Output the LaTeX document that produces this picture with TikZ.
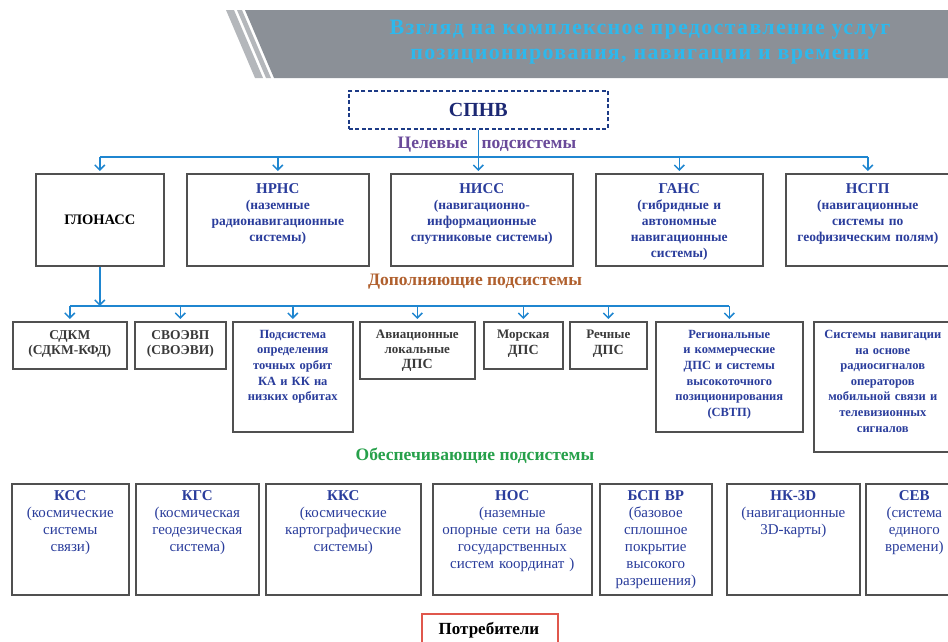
\documentclass[tikz,border=0pt]{standalone}
\usepackage{fontspec}
\setmainfont{Liberation Serif}
\newfontfamily\titlefont[LetterSpace=6]{Liberation Serif}
\usetikzlibrary{arrows.meta}
\definecolor{tblue}{HTML}{2A3D9C}
\definecolor{navy}{HTML}{1C2873}
\definecolor{boxgray}{HTML}{505050}
\definecolor{connblue}{HTML}{1F86D0}
\definecolor{lpurple}{HTML}{6A4A9A}
\definecolor{lbrown}{HTML}{B0602E}
\definecolor{lgreen}{HTML}{26A04A}
\definecolor{lred}{HTML}{E0574C}
\definecolor{tcyan}{HTML}{2EB8EC}
\definecolor{bannergray}{HTML}{8B9097}
\definecolor{stripegray}{HTML}{B4B7BB}
\definecolor{gtext}{HTML}{3A3A3A}
\newcommand\fsz[2]{\fontsize{#1}{#2}\selectfont}
\newcommand\ttlA[1]{{\fsz{15}{18}\bfseries #1\par}}
\newcommand\ttlB[1]{{\fsz{15}{17}\bfseries #1\par}}
\tikzset{
  box/.style={draw=boxgray, line width=1.6pt, fill=white, inner sep=0pt, anchor=north west},
  txt/.style={anchor=north, align=center, inner sep=0pt},
  rowA/.style={txt, text=tblue, font=\fsz{13.5}{16}\bfseries},
  rowB/.style={txt, text=tblue, font=\fsz{12.5}{15.6}\bfseries},
  rowG/.style={txt, text=gtext, font=\fsz{13.5}{15.5}\bfseries},
  rowD/.style={txt, text=tblue, font=\fsz{15}{17}},
  bus/.style={draw=connblue, line width=1.5pt},
  conn/.style={draw=connblue, line width=1.5pt, -{Straight Barb[length=5pt,width=10pt]}, shorten >=2pt},
  lbl/.style={inner sep=0pt, font=\fsz{17.5}{19}\bfseries}
}
\begin{document}
\begin{tikzpicture}[x=1pt,y=-1pt]
\useasboundingbox (0,0) rectangle (948,641);
\clip (0,0) rectangle (948,641);
% banner
\fill[stripegray] (226,10) -- (234,10) -- (263,78) -- (255,78) -- cycle;
\fill[stripegray] (237,10) -- (242,10) -- (271,78) -- (266,78) -- cycle;
\fill[bannergray] (245,10) -- (960,10) -- (960,78) -- (274,78) -- cycle;
\node[txt, anchor=center, text=tcyan, font=\titlefont\fsz{22}{25}\bfseries] (title) at (640,42)
  {Взгляд на комплексное предоставление услуг\\позиционирования, навигации и времени};
% top
\node[box, draw=navy!80!connblue, dashed, dash pattern=on 4pt off 2.5pt, minimum width=259, minimum height=38] (spnv) at (348,90) {};
\node[inner sep=0pt, text=navy, font=\fsz{20}{22}\bfseries] (spnvT) at (spnv.center) {СПНВ};
\node[lbl, text=lpurple] (lblA) at (487,145) {Целевые\hspace{14pt}подсистемы};
% row 1
\node[box, minimum width=128, minimum height=92] (glonass) at (35,173) {};
\node[inner sep=0pt, font=\fsz{14.5}{16}\bfseries] (glonassT) at (glonass.center) {ГЛОНАСС};
\node[box, minimum width=182, minimum height=92] (nrns) at (186,173) {};
\node[rowA, text width=178] (nrnsT) at ([yshift=-10pt]nrns.north) {\ttlA{НРНС}(наземные\\радионавигационные\\системы)};
\node[box, minimum width=182, minimum height=92] (niss) at (390,173) {};
\node[rowA, text width=178] (nissT) at ([yshift=-10pt]niss.north) {\ttlA{НИСС}(навигационно-\\информационные\\спутниковые системы)};
\node[box, minimum width=167, minimum height=92] (gans) at (595,173) {};
\node[rowA, text width=163] (gansT) at ([yshift=-10pt]gans.north) {\ttlA{ГАНС}(гибридные и\\автономные\\навигационные\\системы)};
\node[box, minimum width=164, minimum height=92] (nsgp) at (785,173) {};
\node[rowA, text width=160] (nsgpT) at ([yshift=-10pt]nsgp.north) {\ttlA{НСГП}(навигационные\\системы по\\геофизическим полям)};
% connectors top
\coordinate (busA) at (0,157);
\draw[bus] (glonass.north |- busA) -- (nsgp.north |- busA);
\draw[conn] (spnv.south) -- (spnv.south |- niss.north);
\draw[conn] (glonass.north |- busA) -- (glonass.north);
\draw[conn] (nrns.north |- busA) -- (nrns.north);
\draw[conn] (gans.north |- busA) -- (gans.north);
\draw[conn] (nsgp.north |- busA) -- (nsgp.north);
% label 2
\node[lbl, text=lbrown] (lblB) at (475,282) {Дополняющие подсистемы};
% row 2
\node[box, minimum width=114, minimum height=47] (sdkm) at (12,321) {};
\node[rowG, text width=110] (sdkmT) at ([yshift=-9pt]sdkm.north) {СДКМ\\(СДКМ-КФД)};
\node[box, minimum width=91, minimum height=47] (svoevp) at (134,321) {};
\node[rowG, text width=88] (svoevpT) at ([yshift=-9pt]svoevp.north) {СВОЭВП\\(СВОЭВИ)};
\node[box, minimum width=120, minimum height=110] (podsys) at (232,321) {};
\node[rowB, text width=116] (podsysT) at ([yshift=-9pt]podsys.north) {Подсистема\\определения\\точных орбит\\КА и КК на\\низких орбитах};
\node[box, minimum width=115, minimum height=57] (avia) at (359,321) {};
\node[rowG, text width=112, font=\fsz{13}{15}\bfseries] (aviaT) at ([yshift=-9pt]avia.north) {Авиационные\\локальные\\{\fsz{14}{15}ДПС}};
\node[box, minimum width=79, minimum height=47] (morsk) at (483,321) {};
\node[rowG, text width=76, font=\fsz{13}{15.5}\bfseries] (morskT) at ([yshift=-9pt]morsk.north) {Морская\\{\fsz{14}{15.5}ДПС}};
\node[box, minimum width=77, minimum height=47] (rech) at (569,321) {};
\node[rowG, text width=74, font=\fsz{13}{15.5}\bfseries] (rechT) at ([yshift=-9pt]rech.north) {Речные\\{\fsz{14}{15.5}ДПС}};
\node[box, minimum width=147, minimum height=110] (region) at (655,321) {};
\node[rowB, text width=143] (regionT) at ([yshift=-9pt]region.north) {Региональные\\и коммерческие\\ДПС и системы\\высокоточного\\позиционирования\\(СВТП)};
\node[box, minimum width=138, minimum height=130] (mobile) at (813,321) {};
\node[rowB, text width=136] (mobileT) at ([yshift=-9pt]mobile.north) {Системы навигации\\на основе\\радиосигналов\\операторов\\мобильной связи и\\телевизионных\\сигналов};
% connectors row 2
\coordinate (busB) at (0,306);
\draw[conn, shorten >=0pt] (glonass.south) -- (glonass.south |- busB);
\draw[bus] (sdkm.north |- busB) -- (region.north |- busB);
\foreach \n in {sdkm,svoevp,podsys,avia,morsk,rech,region}
  \draw[conn] (\n.north |- busB) -- (\n.north);
% label 3
\node[lbl, text=lgreen] (lblC) at (475,456) {Обеспечивающие подсистемы};
% row 4
\node[box, minimum width=117, minimum height=111] (kss) at (11,483) {};
\node[rowD, text width=113] (kssT) at ([yshift=-7pt]kss.north) {\ttlB{КСС}(космические\\системы\\связи)};
\node[box, minimum width=123, minimum height=111] (kgs) at (135,483) {};
\node[rowD, text width=119] (kgsT) at ([yshift=-7pt]kgs.north) {\ttlB{КГС}(космическая\\геодезическая\\система)};
\node[box, minimum width=155, minimum height=111] (kks) at (265,483) {};
\node[rowD, text width=151] (kksT) at ([yshift=-7pt]kks.north) {\ttlB{ККС}(космические\\картографические\\системы)};
\node[box, minimum width=159, minimum height=111] (nos) at (432,483) {};
\node[rowD, text width=157] (nosT) at ([yshift=-7pt]nos.north) {\ttlB{НОС}(наземные\\опорные сети на базе\\государственных\\систем координат )};
\node[box, minimum width=112, minimum height=111] (bsp) at (599,483) {};
\node[rowD, text width=108] (bspT) at ([yshift=-7pt]bsp.north) {\ttlB{БСП ВР}(базовое\\сплошное\\покрытие\\высокого\\разрешения)};
\node[box, minimum width=133, minimum height=111] (nk3d) at (726,483) {};
\node[rowD, text width=129] (nk3dT) at ([yshift=-7pt]nk3d.north) {\ttlB{НК-3D}(навигационные\\3D-карты)};
\node[box, minimum width=97, minimum height=111] (sev) at (865,483) {};
\node[rowD, text width=93] (sevT) at ([yshift=-7pt]sev.north) {\ttlB{СЕВ}(система\\единого\\времени)};
% consumers
\node[box, draw=lred, minimum width=136, minimum height=50] (potr) at (421,613) {};
\node[inner sep=0pt, font=\fsz{17}{19}\bfseries] (potrT) at (489,630) {Потребители};
\end{tikzpicture}
\end{document}
